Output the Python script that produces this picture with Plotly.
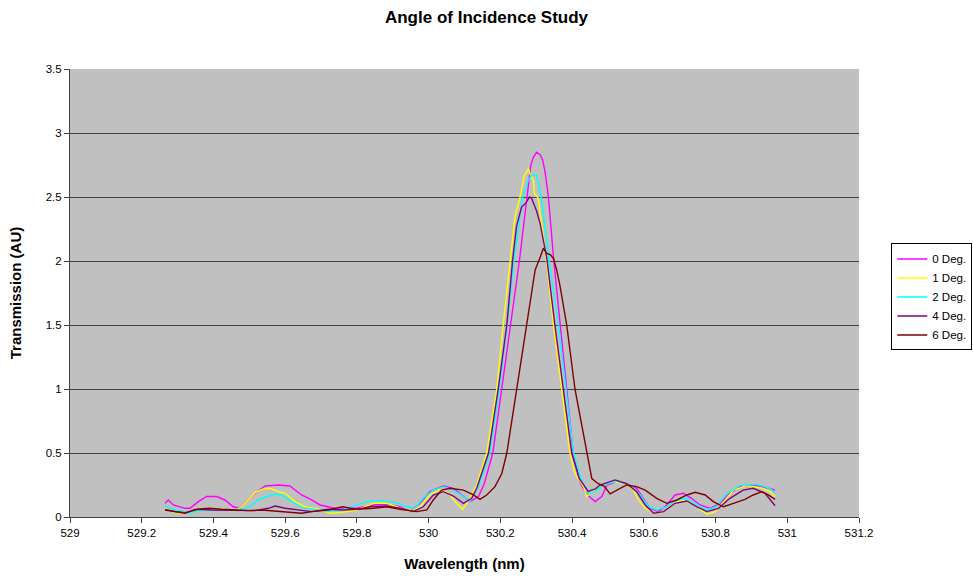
import plotly.graph_objects as go

# Transmission spectra (AU) versus wavelength (nm) for each angle of incidence
wl_0 = [529.265, 529.274, 529.288, 529.321, 529.335, 529.358, 529.381, 529.409, 529.432, 529.455,
        529.474, 529.488, 529.516, 529.544, 529.581, 529.613, 529.646, 529.674, 529.697, 529.72,
        529.75, 529.8, 529.846, 529.883, 529.92, 529.948, 529.976, 530.004, 530.041, 530.069,
        530.097, 530.115, 530.139, 530.155, 530.179, 530.204, 530.229, 530.253, 530.27, 530.285,
        530.292, 530.301, 530.311, 530.318, 530.325, 530.334, 530.349, 530.368, 530.385, 530.403,
        530.422, 530.44, 530.464, 530.483, 530.497, 530.524, 530.552, 530.58, 530.599, 530.617,
        530.641, 530.664, 530.687, 530.71, 530.733, 530.757, 530.785, 530.813, 530.84, 530.868,
        530.905, 530.943, 530.966]
tr_0 = [0.107, 0.133, 0.094, 0.068, 0.068, 0.12, 0.16, 0.16, 0.133, 0.08,
        0.068, 0.107, 0.185, 0.242, 0.25, 0.242, 0.172, 0.133, 0.094, 0.08,
        0.06, 0.07, 0.094, 0.1, 0.08, 0.04, 0.107, 0.2, 0.242, 0.224,
        0.16, 0.12, 0.16, 0.26, 0.5, 1.0, 1.5, 2.0, 2.4, 2.75,
        2.81, 2.85, 2.83, 2.79, 2.69, 2.5, 2.0, 1.5, 1.0, 0.5,
        0.27, 0.18, 0.12, 0.16, 0.25, 0.276, 0.26, 0.224, 0.146, 0.068,
        0.042, 0.094, 0.172, 0.185, 0.146, 0.094, 0.068, 0.107, 0.185, 0.237,
        0.25, 0.229, 0.21]

wl_1 = [529.265, 529.293, 529.321, 529.349, 529.386, 529.423, 529.46, 529.479, 529.497, 529.516,
        529.535, 529.558, 529.581, 529.6, 529.627, 529.655, 529.692, 529.725, 529.753, 529.8,
        529.846, 529.883, 529.911, 529.948, 529.976, 530.004, 530.032, 530.055, 530.078, 530.095,
        530.115, 530.134, 530.162, 530.19, 530.208, 530.227, 530.241, 530.255, 530.266, 530.274,
        530.278, 530.283, 530.292, 530.295, 530.306, 530.315, 530.325, 530.348, 530.371, 530.394,
        530.408, 530.431, 530.441, 530.469, 530.478, 530.515, 530.552, 530.571, 530.585, 530.604,
        530.627, 530.655, 530.678, 530.706, 530.733, 530.757, 530.776, 530.8, 530.822, 530.85,
        530.887, 530.924, 530.952, 530.966]
tr_1 = [0.068, 0.034, 0.029, 0.05, 0.055, 0.06, 0.05, 0.08, 0.133, 0.19,
        0.216, 0.224, 0.198, 0.185, 0.12, 0.08, 0.06, 0.029, 0.034, 0.055,
        0.107, 0.107, 0.08, 0.042, 0.08, 0.172, 0.216, 0.185, 0.107, 0.06,
        0.146, 0.25, 0.5, 1.0, 1.5, 2.0, 2.35, 2.5, 2.66, 2.7,
        2.72, 2.68, 2.63, 2.53, 2.49, 2.29, 2.09, 1.5, 1.0, 0.5,
        0.34, 0.24, 0.16, 0.23, 0.237, 0.276, 0.255, 0.21, 0.133, 0.068,
        0.029, 0.042, 0.094, 0.133, 0.107, 0.055, 0.021, 0.042, 0.12, 0.21,
        0.245, 0.229, 0.198, 0.16]

wl_2 = [529.265, 529.293, 529.33, 529.358, 529.395, 529.441, 529.47, 529.497, 529.525, 529.553,
        529.576, 529.595, 529.618, 529.646, 529.683, 529.72, 529.762, 529.8, 529.827, 529.864,
        529.911, 529.939, 529.962, 529.985, 530.013, 530.041, 530.069, 530.097, 530.115, 530.139,
        530.171, 530.197, 530.219, 530.238, 530.262, 530.278, 530.287, 530.3, 530.306, 530.315,
        530.325, 530.336, 530.362, 530.383, 530.404, 530.425, 530.445, 530.465, 530.487, 530.524,
        530.562, 530.59, 530.613, 530.636, 530.664, 530.692, 530.72, 530.748, 530.776, 530.803,
        530.831, 530.868, 530.915, 530.952, 530.966]
tr_2 = [0.08, 0.06, 0.029, 0.05, 0.055, 0.055, 0.055, 0.075, 0.133, 0.164,
        0.18, 0.164, 0.12, 0.075, 0.06, 0.042, 0.06, 0.094, 0.12, 0.127,
        0.112, 0.08, 0.068, 0.146, 0.21, 0.237, 0.21, 0.16, 0.12, 0.24,
        0.5, 1.0, 1.5, 2.0, 2.5, 2.63, 2.67, 2.67, 2.61, 2.48,
        2.27, 2.0, 1.5, 1.0, 0.5, 0.3, 0.18, 0.2, 0.25, 0.28,
        0.25, 0.172, 0.08, 0.055, 0.08, 0.133, 0.146, 0.094, 0.055, 0.08,
        0.185, 0.245, 0.255, 0.224, 0.185]

wl_4 = [529.265, 529.293, 529.321, 529.358, 529.395, 529.441, 529.474, 529.516, 529.553, 529.572,
        529.6, 529.637, 529.674, 529.72, 529.762, 529.8, 529.837, 529.883, 529.92, 529.957,
        529.985, 530.013, 530.041, 530.069, 530.097, 530.12, 530.134, 530.167, 530.194, 530.218,
        530.234, 530.245, 530.259, 530.273, 530.281, 530.287, 530.294, 530.301, 530.311, 530.32,
        530.329, 530.352, 530.376, 530.399, 530.42, 530.445, 530.465, 530.478, 530.52, 530.552,
        530.58, 530.604, 530.627, 530.655, 530.687, 530.72, 530.748, 530.776, 530.808, 530.84,
        530.877, 530.905, 530.938, 530.966]
tr_4 = [0.06, 0.042, 0.034, 0.06, 0.055, 0.055, 0.055, 0.05, 0.068, 0.086,
        0.068, 0.055, 0.042, 0.06, 0.055, 0.06, 0.08, 0.086, 0.068, 0.042,
        0.08, 0.172, 0.198, 0.164, 0.107, 0.146, 0.224, 0.5, 1.0, 1.5,
        2.0, 2.27, 2.42, 2.46, 2.5, 2.49, 2.44, 2.39, 2.29, 2.16,
        2.03, 1.5, 1.0, 0.5, 0.3, 0.2, 0.22, 0.25, 0.29, 0.26,
        0.198, 0.094, 0.029, 0.042, 0.107, 0.125, 0.08, 0.042, 0.068, 0.146,
        0.21, 0.224, 0.185, 0.088]

wl_6 = [529.265, 529.293, 529.321, 529.349, 529.386, 529.423, 529.46, 529.498, 529.535, 529.581,
        529.609, 529.646, 529.674, 529.72, 529.76, 529.8, 529.846, 529.883, 529.92, 529.967,
        529.995, 530.013, 530.036, 530.06, 530.097, 530.125, 530.143, 530.162, 530.185, 530.204,
        530.218, 530.245, 530.273, 530.297, 530.311, 530.32, 530.329, 530.339, 530.348, 530.357,
        530.366, 530.385, 530.408, 530.441, 530.455, 530.473, 530.49, 530.506, 530.524, 530.552,
        530.58, 530.604, 530.636, 530.664, 530.692, 530.72, 530.743, 530.771, 530.794, 530.822,
        530.85, 530.882, 530.905, 530.929, 530.947, 530.966]
tr_6 = [0.055, 0.042, 0.029, 0.06, 0.068, 0.06, 0.055, 0.05, 0.055, 0.042,
        0.034, 0.029, 0.042, 0.055, 0.08, 0.06, 0.068, 0.08, 0.06, 0.042,
        0.055, 0.133, 0.21, 0.224, 0.21, 0.172, 0.138, 0.172, 0.237, 0.34,
        0.5, 1.0, 1.5, 1.93, 2.03, 2.1, 2.06, 2.05, 2.02, 1.93,
        1.81, 1.5, 1.0, 0.5, 0.3, 0.26, 0.24, 0.18, 0.21, 0.25,
        0.237, 0.21, 0.146, 0.107, 0.133, 0.172, 0.193, 0.172, 0.12, 0.08,
        0.107, 0.138, 0.172, 0.198, 0.172, 0.138]

series_names = ["0 Deg.", "1 Deg.", "2 Deg.", "4 Deg.", "6 Deg."]
series_colors = ["#FF00FF", "#FFFF00", "#00FFFF", "#800080", "#800000"]
series_x = [wl_0, wl_1, wl_2, wl_4, wl_6]
series_y = [tr_0, tr_1, tr_2, tr_4, tr_6]

x_ticks = [529.0, 529.2, 529.4, 529.6, 529.8, 530.0, 530.2, 530.4, 530.6, 530.8, 531.0, 531.2]
x_tick_text = ["529", "529.2", "529.4", "529.6", "529.8", "530", "530.2", "530.4",
               "530.6", "530.8", "531", "531.2"]
y_ticks = [0, 0.5, 1, 1.5, 2, 2.5, 3, 3.5]
y_tick_text = ["0", "0.5", "1", "1.5", "2", "2.5", "3", "3.5"]

fig = go.Figure()
for name, color, xs, ys in zip(series_names, series_colors, series_x, series_y):
    fig.add_trace(go.Scatter(x=xs, y=ys, mode="lines", name=name,
                             line=dict(color=color, width=1.4)))

font_family = "Liberation Sans, Arial, sans-serif"

fig.update_layout(
    width=973, height=577,
    margin=dict(l=70, r=114, t=69, b=60, autoexpand=False),
    paper_bgcolor="white",
    plot_bgcolor="#C0C0C0",
    font=dict(family=font_family, size=11, color="black"),
    title=dict(text="<b>Angle of Incidence Study</b>", x=0.5, xanchor="center",
               y=0.97, yanchor="middle", font=dict(size=17, family=font_family)),
    showlegend=True,
    legend=dict(xref="container", yref="container", x=0.916, y=0.578,
                xanchor="left", yanchor="top",
                bgcolor="white", bordercolor="black", borderwidth=1,
                font=dict(size=11.5, family=font_family),
                itemwidth=30, tracegroupgap=0),
    xaxis=dict(range=[529.0, 531.2], tickvals=x_ticks, ticktext=x_tick_text,
               showgrid=False, zeroline=False, showline=True, linecolor="#404040",
               linewidth=1, ticks="outside", ticklen=5, tickcolor="#404040",
               tickfont=dict(size=11.5),
               title=dict(text="<b>Wavelength (nm)</b>", font=dict(size=15), standoff=20)),
    yaxis=dict(range=[0, 3.5], tickvals=y_ticks, ticktext=y_tick_text,
               showgrid=True, gridcolor="#404040", gridwidth=1,
               zeroline=False, showline=True, linecolor="#404040", linewidth=1,
               ticks="outside", ticklen=5, tickcolor="#404040",
               tickfont=dict(size=11.5),
               title=dict(text="<b>Transmission (AU)</b>", font=dict(size=15), standoff=20)),
)

fig.write_html("out.html")
